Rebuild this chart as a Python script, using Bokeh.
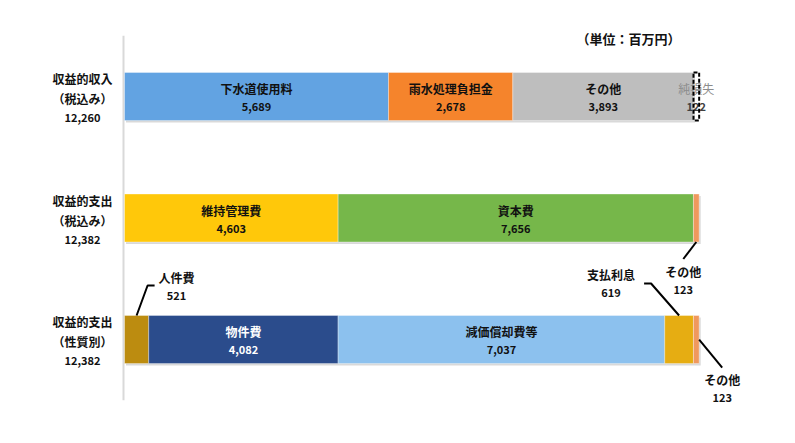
from bokeh.plotting import figure
from bokeh.models import ColumnDataSource, Range1d
from bokeh.core.properties import value
from bokeh.embed import file_html
from bokeh.resources import INLINE

# ---------------- data ----------------
row_titles = ["収益的収入", "収益的支出", "収益的支出"]
row_subtitles = ["（税込み）", "（税込み）", "（性質別）"]
row_totals = ["12,260", "12,382", "12,382"]

income_names = ["下水道使用料", "雨水処理負担金", "その他"]
income_values = [5689, 2678, 3893]
net_loss_name = "純損失"
net_loss_value = 122

exp_tax_names = ["維持管理費", "資本費", "その他"]
exp_tax_values = [4603, 7656, 123]

exp_nat_names = ["人件費", "物件費", "減価償却費等", "支払利息", "その他"]
exp_nat_values = [521, 4082, 7037, 619, 123]

unit_label = "（単位：百万円）"

# ---------------- styles ----------------
income_colors = ["#62A3E2", "#F5842C", "#BEBEBE"]
exp_tax_colors = ["#FFC80A", "#76B74A", "#F0995E"]
exp_nat_colors = ["#BC8C10", "#2B4C8C", "#8CC1EE", "#E6AD12", "#F0995E"]
income_tc = ["#111111"] * 3
exp_tax_tc = ["#111111"] * 3
exp_nat_tc = ["#111111", "#ffffff", "#111111", "#111111", "#111111"]

FONT = "Noto Sans CJK JP"
W, H = 779, 427
X0, X1 = -2672, 14113
Y0, Y1 = -0.724, 2.790
KX = W / (X1 - X0)          # px per unit x
KY = H / (Y1 - Y0)          # px per unit y
BAR_H = 48 / KY


def dx(px):
    return px / KX


def dy(px):  # screen px downward -> data
    return -px / KY


rows = [
    (2, income_names, income_values, income_colors, income_tc),
    (1, exp_tax_names, exp_tax_values, exp_tax_colors, exp_tax_tc),
    (0, exp_nat_names, exp_nat_values, exp_nat_colors, exp_nat_tc),
]

seg = dict(y=[], left=[], right=[], color=[])
lab = dict(x=[], yn=[], yv=[], name=[], val=[], tc=[])
segpos = {}
for y, names, vals, cols, tcs in rows:
    acc = 0
    for i, (n, v, c, t) in enumerate(zip(names, vals, cols, tcs)):
        seg["y"].append(y)
        seg["left"].append(acc)
        seg["right"].append(acc + v)
        seg["color"].append(c)
        segpos[(y, i)] = (acc, acc + v)
        if v > 1000:
            lab["x"].append(acc + v / 2)
            lab["yn"].append(y + dy(-8))
            lab["yv"].append(y + dy(10))
            lab["name"].append(n)
            lab["val"].append(f"{v:,}")
            lab["tc"].append(t)
        acc += v

p = figure(width=W, height=H, output_backend="svg", toolbar_location=None,
           x_range=Range1d(X0, X1), y_range=Range1d(Y0, Y1),
           min_border=0, outline_line_color=None)
p.axis.visible = False
p.grid.visible = False
p.background_fill_color = "white"

# vertical baseline
p.segment(x0=[dx(-1)], x1=[dx(-1)], y0=[2 + 0.5], y1=[0 - 0.5],
          line_color="#D9D9D9", line_width=2)

src = ColumnDataSource(seg)
sh = dict(y=[v + dy(2) for v in seg["y"]], left=[v + dx(1.5) for v in seg["left"]],
          right=[v + dx(1.5) for v in seg["right"]])
p.hbar(y="y", left="left", right="right", height=BAR_H, source=ColumnDataSource(sh),
       fill_color="#808080", fill_alpha=0.3, line_color=None)
p.hbar(y="y", left="left", right="right", height=BAR_H, source=src,
       fill_color="color", line_color="#ffffff", line_alpha=0.35, line_width=1)

lsrc = ColumnDataSource(lab)
p.text(x="x", y="yn", text="name", source=lsrc, text_color="tc",
       text_font=value(FONT), text_font_style="bold", text_font_size="12px",
       text_align="center", text_baseline="middle")
p.text(x="x", y="yv", text="val", source=lsrc, text_color="tc",
       text_font=value(FONT), text_font_style="bold", text_font_size="11px",
       text_align="center", text_baseline="middle")

# net loss
nl_left = sum(income_values)
nl_right = nl_left + net_loss_value
nl_mid = (nl_left + nl_right) / 2
p.text(x=[nl_mid], y=[2 + dy(-8)], text=[net_loss_name], text_color="#8C8C8C",
       text_font=value(FONT), text_font_size="12px",
       text_align="center", text_baseline="middle")
p.text(x=[nl_mid], y=[2 + dy(10)], text=[f"{net_loss_value:,}"], text_color="#404040",
       text_font=value(FONT), text_font_style="bold", text_font_size="11px",
       text_align="center", text_baseline="middle")
p.hbar(y=[2], left=[nl_left], right=[nl_right], height=BAR_H,
       fill_alpha=0, line_color="#000000", line_width=2, line_dash="4 2")

# callouts: (row, index, anchor mode, path offsets px, label offsets px)
callouts = [
    (0, 0, "top", [(11, -30), (18, -30)], (40, -38)),
    (0, 3, "top", [(-28, -32), (-35, -32)], (-68, -41)),
    (1, 2, "bottom", [(-13, 17)], (-13, 29)),
    (0, 4, "right", [(23, 28)], (23, 40)),
]
names_by_row = {2: income_names, 1: exp_tax_names, 0: exp_nat_names}
vals_by_row = {2: income_values, 1: exp_tax_values, 0: exp_nat_values}
for r, i, mode, path, loff in callouts:
    l, rr = segpos[(r, i)]
    if mode == "top":
        ax, ay = (l + rr) / 2, r + BAR_H / 2
    elif mode == "bottom":
        ax, ay = (l + rr) / 2, r - BAR_H / 2
    else:
        ax, ay = rr, r
    xs = [ax] + [ax + dx(px) for px, py in path]
    ys = [ay] + [ay + dy(py) for px, py in path]
    p.line(xs, ys, line_color="#000000", line_width=2)
    lx = ax + dx(loff[0])
    p.text(x=[lx], y=[ay + dy(loff[1])], text=[names_by_row[r][i]], text_color="#111111",
           text_font=value(FONT), text_font_style="bold", text_font_size="12px",
           text_align="center", text_baseline="middle")
    p.text(x=[lx], y=[ay + dy(loff[1] + 18)], text=[f"{vals_by_row[r][i]:,}"],
           text_color="#111111",
           text_font=value(FONT), text_font_style="bold", text_font_size="11px",
           text_align="center", text_baseline="middle")

# row titles on left
tx = dx(-42)
for y, t, s, tot in zip([2, 1, 0], row_titles, row_subtitles, row_totals):
    p.text(x=[tx], y=[y + dy(-18)], text=[t], text_color="#111111",
           text_font=value(FONT), text_font_style="bold", text_font_size="12px",
           text_align="center", text_baseline="middle")
    p.text(x=[tx], y=[y + dy(2)], text=[s], text_color="#111111",
           text_font=value(FONT), text_font_style="bold", text_font_size="12px",
           text_align="center", text_baseline="middle")
    p.text(x=[tx], y=[y + dy(21)], text=[tot], text_color="#111111",
           text_font=value(FONT), text_font_style="bold", text_font_size="11px",
           text_align="center", text_baseline="middle")

# unit label
p.text(x=[dx(504)], y=[2 + dy(-58)], text=[unit_label], text_color="#111111",
       text_font=value(FONT), text_font_style="bold", text_font_size="13px",
       text_align="center", text_baseline="middle")

open("out.html", "w").write(file_html(p, INLINE))
